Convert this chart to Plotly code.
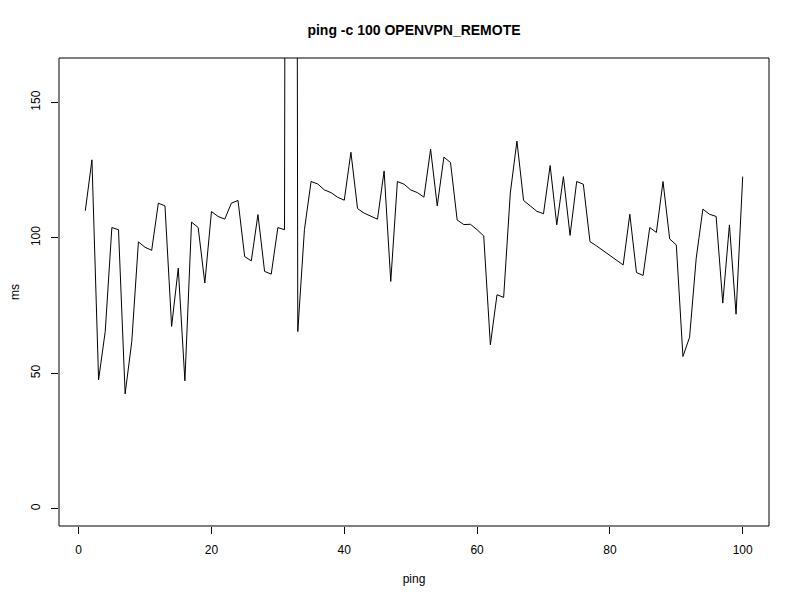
import plotly.graph_objects as go

ping = list(range(1, 101))
ms = [110.0, 128.8, 47.6, 65.4, 103.8, 103.0, 42.4, 61.7, 98.5, 96.5,
      95.4, 112.8, 111.8, 67.3, 88.8, 47.2, 105.8, 103.8, 83.3, 109.7,
      107.9, 106.9, 112.8, 113.8, 93.1, 91.5, 108.6, 87.6, 86.6, 103.8,
      103.0, 1500.0, 65.4, 103.0, 120.8, 119.9, 117.7, 116.7, 115.0, 113.9,
      131.6, 110.8, 109.1, 108.0, 106.9, 124.7, 83.9, 120.8, 119.8, 117.7,
      116.7, 115.0, 132.7, 111.8, 129.8, 127.8, 106.6, 104.9, 105.0, 103.0,
      100.7, 60.5, 79.0, 78.0, 116.5, 135.7, 113.8, 111.8, 109.8, 108.9,
      126.7, 104.8, 122.6, 100.9, 120.8, 119.8, 98.6, 97.0, 95.3, 93.7,
      91.9, 90.0, 108.7, 87.2, 86.1, 103.8, 102.0, 120.8, 99.6, 97.4,
      56.2, 63.3, 92.5, 110.6, 108.7, 107.9, 75.9, 104.8, 71.8, 122.6]

x_ticks = [0, 20, 40, 60, 80, 100]
y_ticks = [0, 50, 100, 150]

font = "Liberation Sans, Arial, sans-serif"

# page body has an 8px default margin, so the figure is offset by 8px
W, H = 792, 592

fig = go.Figure()
fig.add_trace(go.Scatter(x=ping, y=ms, mode="lines",
                         line=dict(color="black", width=1), showlegend=False,
                         hoverinfo="skip"))

fig.update_layout(
    width=W, height=H,
    margin=dict(l=51, r=31, t=50, b=74, autoexpand=False),
    paper_bgcolor="white", plot_bgcolor="white",
    font=dict(family=font, size=12, color="black"),
    title=dict(text="<b>ping -c 100 OPENVPN_REMOTE</b>", x=0.5, xanchor="center",
               xref="paper",
               y=1 - 22 / H, yanchor="middle", font=dict(size=14, family=font)),
    xaxis=dict(range=[1 - 3.96, 100 + 3.96], tickvals=x_ticks, ticks="outside",
               ticklen=7, tickcolor="black", tickwidth=1, showgrid=False,
               zeroline=False, showline=False, ticklabelstandoff=6,
               automargin=False,
               title=dict(text="ping", standoff=18, font=dict(size=12))),
    yaxis=dict(range=[-6.4, 166.4], tickvals=y_ticks, ticks="outside",
               ticklen=7, tickcolor="black", tickwidth=1, showgrid=False,
               zeroline=False, showline=False, tickangle=-90,
               ticklabelstandoff=6, automargin=False,
               title=dict(text="ms", standoff=14, font=dict(size=12))),
    shapes=[dict(type="rect", xref="paper", yref="paper", x0=0, y0=0, x1=1, y1=1,
                 line=dict(color="black", width=1), fillcolor="rgba(0,0,0,0)")],
)

fig.write_html("out.html")
